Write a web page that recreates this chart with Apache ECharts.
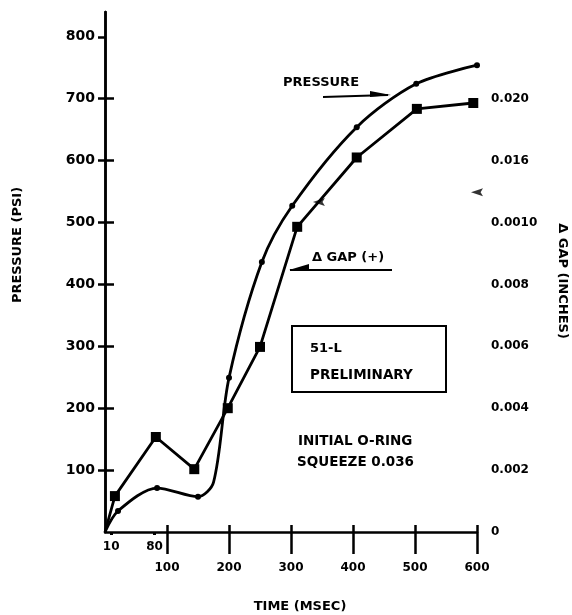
<!DOCTYPE html>
<html>
<head>
<meta charset="utf-8">
<script src="https://cdn.jsdelivr.net/npm/echarts@6/dist/echarts.min.js"></script>
<style>
html,body{margin:0;padding:0;background:#fff;}
#c{width:572px;height:615px;}
</style>
</head>
<body>
<div id="c"></div>
<script>
// ---- data (time in msec) ----
var pressureTime = [0, 21, 84, 150, 175, 200, 253, 302, 406, 502, 600];
var pressurePsi  = [0, 34, 71, 57, 80, 249, 436, 527, 654, 724, 754];
var pressureMarked = [false, true, true, true, false, true, true, true, true, true, true];

var gapTime   = [0, 16, 82, 144, 198, 250, 310, 406, 503, 594];
var gapInches = [0, 0.00116, 0.00307, 0.00203, 0.0040, 0.00598, 0.00986, 0.0121, 0.01367, 0.01386];

var extraMarkTime = [345, 600];
var extraMarkGap  = [0.01066, 0.01098];

var leftTicks  = [100, 200, 300, 400, 500, 600, 700, 800];
var rightTicks = [0, 0.002, 0.004, 0.006, 0.008, 0.010, 0.012, 0.014];
var rightLabels = ['0', '0.002', '0.004', '0.006', '0.008', '0.0010', '0.016', '0.020'];
var xMajorTicks = [100, 200, 300, 400, 500, 600];
var xMinorTicks = [10, 80];

var FONT = "'DejaVu Sans', sans-serif";
var chart = echarts.init(document.getElementById('c'), null, {renderer: 'canvas'});

var pData = pressureTime.map(function (t, i) {
  return {value: [t, pressurePsi[i]], symbol: pressureMarked[i] ? 'circle' : 'none'};
});
var gData = gapTime.map(function (t, i) {
  return {value: [t, gapInches[i]], symbol: i === 0 ? 'none' : 'rect'};
});
var eData = extraMarkTime.map(function (t, i) { return [t, extraMarkGap[i]]; });

function rightLabel(v) {
  for (var i = 0; i < rightTicks.length; i++) {
    if (Math.abs(rightTicks[i] - v) < 1e-7) return rightLabels[i];
  }
  return '';
}

var option = {
  backgroundColor: '#fff',
  animation: false,
  grid: {left: 105, right: 95, top: 12, bottom: 83},
  xAxis: [
    {
      type: 'value', min: 0, max: 600, interval: 100,
      axisLine: {show: true, lineStyle: {color: '#000', width: 2.5}},
      axisTick: {show: true, customValues: xMajorTicks, length: 22, lineStyle: {color: '#000', width: 2.5}},
      axisLabel: {customValues: xMajorTicks, margin: 30, color: '#000', fontFamily: FONT, fontWeight: 'bold', fontSize: 12},
      splitLine: {show: false}
    },
    {
      type: 'value', min: 0, max: 600, position: 'bottom',
      axisLine: {show: false},
      axisTick: {show: true, inside: true, customValues: xMajorTicks, length: 7, lineStyle: {color: '#000', width: 2.5}},
      axisLabel: {show: false},
      splitLine: {show: false}
    },
    {
      type: 'value', min: 0, max: 600, position: 'bottom',
      axisLine: {show: false},
      axisTick: {show: true, customValues: xMinorTicks, length: 3, lineStyle: {color: '#000', width: 3}},
      axisLabel: {customValues: xMinorTicks, margin: 9, color: '#000', fontFamily: FONT, fontWeight: 'bold', fontSize: 12},
      splitLine: {show: false}
    }
  ],
  yAxis: [
    {
      type: 'value', min: 0, max: 840, position: 'left',
      axisLine: {show: true, lineStyle: {color: '#000', width: 2.5}},
      axisTick: {show: true, customValues: leftTicks, length: 7, lineStyle: {color: '#000', width: 2.5}},
      axisLabel: {customValues: leftTicks, margin: 10, color: '#000', fontFamily: FONT, fontWeight: 'bold', fontSize: 14},
      splitLine: {show: false}
    },
    {
      type: 'value', min: 0, max: 0.0168, position: 'right',
      axisLine: {show: true, lineStyle: {color: '#000', width: 2.5}},
      axisTick: {show: true, customValues: rightTicks.slice(1), length: 9, lineStyle: {color: '#000', width: 2.5}},
      axisLabel: {customValues: rightTicks, margin: 14, color: '#000', fontFamily: FONT, fontWeight: 'bold', fontSize: 12,
        formatter: rightLabel},
      splitLine: {show: false}
    }
  ],
  series: [
    {
      name: 'PRESSURE', type: 'line', xAxisIndex: 0, yAxisIndex: 0,
      data: pData, smooth: 0.3,
      symbolSize: 6, showAllSymbol: true,
      lineStyle: {color: '#000', width: 2.8},
      itemStyle: {color: '#000'}
    },
    {
      name: 'GAP', type: 'line', xAxisIndex: 0, yAxisIndex: 1,
      data: gData, symbolSize: 10, showAllSymbol: true,
      lineStyle: {color: '#000', width: 2.8},
      itemStyle: {color: '#000'}
    },
    {
      name: 'marks', type: 'scatter', xAxisIndex: 0, yAxisIndex: 1,
      data: eData, symbol: 'path://M0,4 L10,0 L8,4 L10,8 Z', symbolSize: [12, 8],
      itemStyle: {color: '#000'}
    }
  ],
  graphic: [
    {type: 'text', x: 18, y: 245, rotation: Math.PI / 2,
      style: {text: 'PRESSURE (PSI)', x: 0, y: 0, fill: '#000', font: 'bold 13px ' + FONT, align: 'center', verticalAlign: 'middle'}},
    {type: 'text', x: 562, y: 281, rotation: -Math.PI / 2,
      style: {text: '\u0394 GAP (INCHES)', x: 0, y: 0, fill: '#000', font: 'bold 13px ' + FONT, align: 'center', verticalAlign: 'middle'}},
    {type: 'text', x: 300, y: 607,
      style: {text: 'TIME (MSEC)', x: 0, y: 0, fill: '#000', font: 'bold 13px ' + FONT, align: 'center', verticalAlign: 'middle'}},
    {type: 'text', x: 283, y: 83,
      style: {text: 'PRESSURE', x: 0, y: 0, fill: '#000', font: 'bold 13px ' + FONT, align: 'left', verticalAlign: 'middle'}},
    {type: 'line', shape: {x1: 323, y1: 97, x2: 388, y2: 95}, style: {stroke: '#000', lineWidth: 2}},
    {type: 'polygon', shape: {points: [[370, 91], [391, 95], [370, 97]]}, style: {fill: '#000'}},
    {type: 'text', x: 312, y: 258,
      style: {text: '\u0394 GAP (+)', x: 0, y: 0, fill: '#000', font: 'bold 13px ' + FONT, align: 'left', verticalAlign: 'middle'}},
    {type: 'line', shape: {x1: 290, y1: 270, x2: 392, y2: 270}, style: {stroke: '#000', lineWidth: 2}},
    {type: 'polygon', shape: {points: [[289, 270], [309, 264], [309, 271]]}, style: {fill: '#000'}},
    {type: 'rect', shape: {x: 292, y: 326, width: 154, height: 66}, style: {stroke: '#000', lineWidth: 2, fill: 'none'}},
    {type: 'text', x: 310, y: 349,
      style: {text: '51-L', x: 0, y: 0, fill: '#000', font: 'bold 13px ' + FONT, align: 'left', verticalAlign: 'middle'}},
    {type: 'text', x: 310, y: 375,
      style: {text: 'PRELIMINARY', x: 0, y: 0, fill: '#000', font: 'bold 13.5px ' + FONT, align: 'left', verticalAlign: 'middle'}},
    {type: 'text', x: 298, y: 441,
      style: {text: 'INITIAL O-RING', x: 0, y: 0, fill: '#000', font: 'bold 13.5px ' + FONT, align: 'left', verticalAlign: 'middle'}},
    {type: 'text', x: 297, y: 462,
      style: {text: 'SQUEEZE 0.036', x: 0, y: 0, fill: '#000', font: 'bold 13.5px ' + FONT, align: 'left', verticalAlign: 'middle'}}
  ]
};
chart.setOption(option);
</script>
</body>
</html>
